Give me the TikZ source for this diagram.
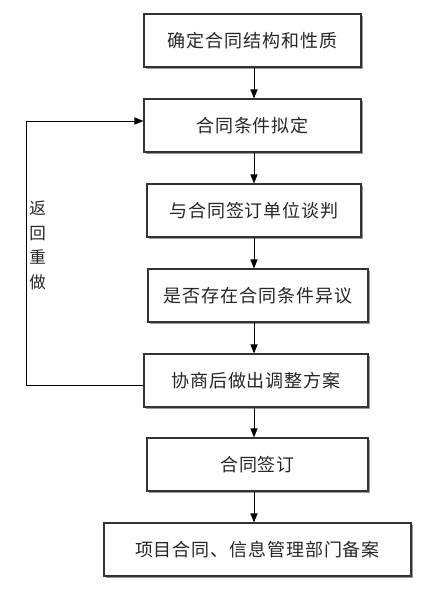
\documentclass[tikz,border=0pt]{standalone}
\usepackage{fontspec}
\newfontfamily\cjk[LetterSpace=5]{Noto Sans CJK SC}
\newfontfamily\cjklabel{Noto Sans CJK SC}
\usetikzlibrary{arrows.meta,shadows}
\definecolor{linegray}{HTML}{333333}
\definecolor{textgray}{HTML}{262626}
\begin{document}
\begin{tikzpicture}[x=1pt,y=1pt,
  stepbox/.style={draw=linegray, line width=1.1pt, fill=white, inner sep=0pt,
    minimum height=53pt, text=textgray,
    font=\cjk\fontsize{18}{20}\selectfont,
    drop shadow={shadow xshift=2.2pt, shadow yshift=-2.2pt, fill=black!40, opacity=1}},
  conn/.style={draw=black, line width=1pt},
  arr/.style={conn, -{Triangle[length=9pt,width=7pt]}}]
\useasboundingbox (0,0) rectangle (428,-594);
\fill[white] (0,0) rectangle (428,-594);
\node[stepbox, minimum width=217pt] (b1) at (252.5,-40.5) {确定合同结构和性质};
\node[stepbox, minimum width=217pt] (b2) at (252.5,-125.5) {合同条件拟定};
\node[stepbox, minimum width=214pt] (b3) at (254,-210.5) {与合同签订单位谈判};
\node[stepbox, minimum width=220pt] (b4) at (258,-295.5) {是否存在合同条件异议};
\node[stepbox, minimum width=224pt] (b5) at (256,-380.5) {协商后做出调整方案};
\node[stepbox, minimum width=221pt] (b6) at (257.5,-464.5) {合同签订};
\node[stepbox, minimum width=307pt] (b7) at (257.5,-549.5) {项目合同、信息管理部门备案};
\coordinate (ax) at (254,0);
\coordinate (fx) at (26,0);
\draw[arr] (b1.south -| ax) -- (b2.north -| ax);
\draw[arr] (b2.south -| ax) -- (b3.north -| ax);
\draw[arr] (b3.south -| ax) -- (b4.north -| ax);
\draw[arr] (b4.south -| ax) -- (b5.north -| ax);
\draw[arr] (b5.south -| ax) -- (b6.north -| ax);
\draw[arr] (b6.south -| ax) -- (b7.north -| ax);
\coordinate (p1) at ([yshift=-4.5pt]b5.west);
\coordinate (p2) at ([yshift=4.5pt]b2.west);
\draw[arr] (p1) -- (p1 -| fx) -- (p2 -| fx) -- (p2);
\node[text=textgray, align=center, inner sep=0pt,
  font=\cjklabel\fontsize{16.5}{24.5}\selectfont] (lbl) at (37.5,-245.5) {返\\回\\重\\做};
\end{tikzpicture}
\end{document}
